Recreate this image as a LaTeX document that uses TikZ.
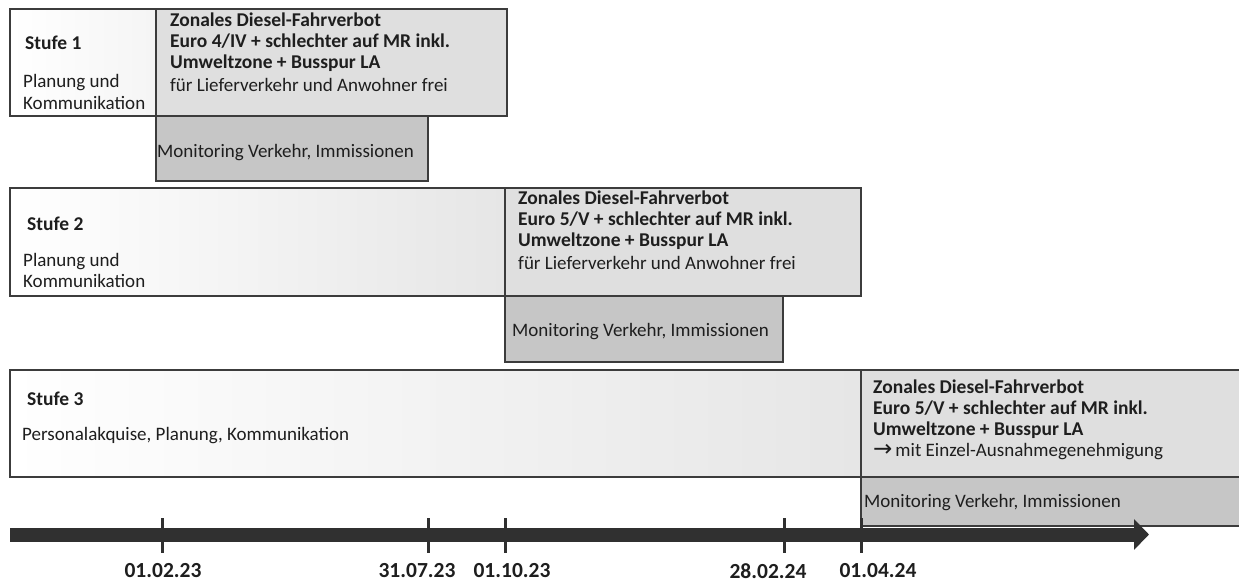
\documentclass[tikz,border=0pt]{standalone}
\usepackage{fontspec}
\setmainfont{Carlito}
\newfontfamily\symfont{DejaVu Sans}
\usetikzlibrary{arrows.meta}
\definecolor{bordercol}{HTML}{3C3C3C}
\definecolor{zonecol}{HTML}{DFDFDF}
\definecolor{moncol}{HTML}{C6C6C6}
\definecolor{arrowcol}{HTML}{303030}
\definecolor{stufeend}{HTML}{E6E6E6}
\definecolor{txtcol}{HTML}{1E1E1E}
\begin{document}
\begin{tikzpicture}[x=1pt,y=-1pt,
  framebox/.style={draw=bordercol, line width=1.3pt, anchor=north west, inner sep=0pt, outer sep=0pt},
  stufebox/.style={framebox, left color=white, right color=stufeend},
  zonebox/.style={framebox, fill=zonecol},
  monbox/.style={framebox, fill=moncol},
  bodytxt/.style={anchor=west, inner sep=0pt, text=txtcol, font=\fontsize{19}{21.3}\selectfont, align=left},
  boldtxt/.style={bodytxt, font=\fontsize{19.5}{21.3}\selectfont\bfseries},
  datetxt/.style={anchor=center, inner sep=0pt, text=txtcol, font=\fontsize{21.5}{22}\selectfont\bfseries},
  tickline/.style={draw=arrowcol, line width=3pt},
  timeline/.style={draw=arrowcol, line width=14pt, -{Triangle[length=15pt,width=30pt]}}
]
\useasboundingbox (0,0) rectangle (1239,583);
\fill[white] (0,0) rectangle (1239,583);

% Stufe 1
\node[stufebox, minimum width=146pt, minimum height=107pt, right color=white!96!black] (s1) at (10,9) {};
\node[zonebox, minimum width=351pt, minimum height=107pt] (z1) at (156,9) {};
\node[monbox, minimum width=272pt, minimum height=65pt] (m1) at (156,116) {};
\node[boldtxt] (s1t) at (25,43) {Stufe 1};
\node[bodytxt] (s1d) at (23,92) {Planung und\\Kommunikation};
\node[boldtxt] (z1t) at (170,42) {Zonales Diesel-Fahrverbot\\Euro 4/IV + schlechter auf MR inkl.\\Umweltzone + Busspur LA};
\node[bodytxt] (z1f) at (170,85) {für Lieferverkehr  und Anwohner frei};
\node[bodytxt] (m1t) at (157,153) {Monitoring Verkehr, Immissionen};

% Stufe 2
\node[stufebox, minimum width=495pt, minimum height=108pt] (s2) at (10,188) {};
\node[zonebox, minimum width=356pt, minimum height=108pt] (z2) at (505,188) {};
\node[monbox, minimum width=278pt, minimum height=66pt] (m2) at (505,296) {};
\node[boldtxt] (s2t) at (27,224) {Stufe 2};
\node[bodytxt] (s2d) at (23,270.5) {Planung und\\Kommunikation};
\node[boldtxt] (z2t) at (518,220) {Zonales Diesel-Fahrverbot\\Euro 5/V + schlechter auf MR inkl.\\Umweltzone + Busspur LA};
\node[bodytxt] (z2f) at (518,263) {für Lieferverkehr  und Anwohner frei};
\node[bodytxt] (m2t) at (512,332) {Monitoring Verkehr, Immissionen};

% Stufe 3
\node[stufebox, minimum width=851pt, minimum height=107pt] (s3) at (10,370) {};
\node[zonebox, minimum width=385pt, minimum height=107pt] (z3) at (861,370) {};
\node[monbox, minimum width=385pt, minimum height=49pt] (m3) at (861,477) {};
\node[boldtxt] (s3t) at (27,399) {Stufe 3};
\node[bodytxt] (s3d) at (22,436) {Personalakquise, Planung, Kommunikation};
\node[boldtxt] (z3t) at (873,409) {Zonales Diesel-Fahrverbot\\Euro 5/V + schlechter auf MR inkl.\\Umweltzone + Busspur LA};
\node[bodytxt] (z3f) at (873,452) {{\symfont\fontsize{23}{21.3}\selectfont →}\hspace{3pt}mit Einzel-Ausnahmegenehmigung};
\node[bodytxt] (m3t) at (864,503) {Monitoring Verkehr, Immissionen};

% timeline
\coordinate (tlstart) at (10,534.5);
\coordinate (tlend) at (1149,534.5);
\path[timeline] (tlstart) -- (tlend);

\foreach \name/\x in {ta/162, tb/428, tc/505, td/784, te/861} {
  \coordinate (\name top) at (\x,518);
  \coordinate (\name bot) at (\x,553);
  \path[tickline] (\name top) -- (\name bot);
}

\node[datetxt] (da) at (163,571) {01.02.23};
\node[datetxt] (db) at (417,571) {31.07.23};
\node[datetxt] (dc) at (512,571) {01.10.23};
\node[datetxt] (dd) at (768,571) {28.02.24};
\node[datetxt] (de) at (878,571) {01.04.24};
\end{tikzpicture}
\end{document}
